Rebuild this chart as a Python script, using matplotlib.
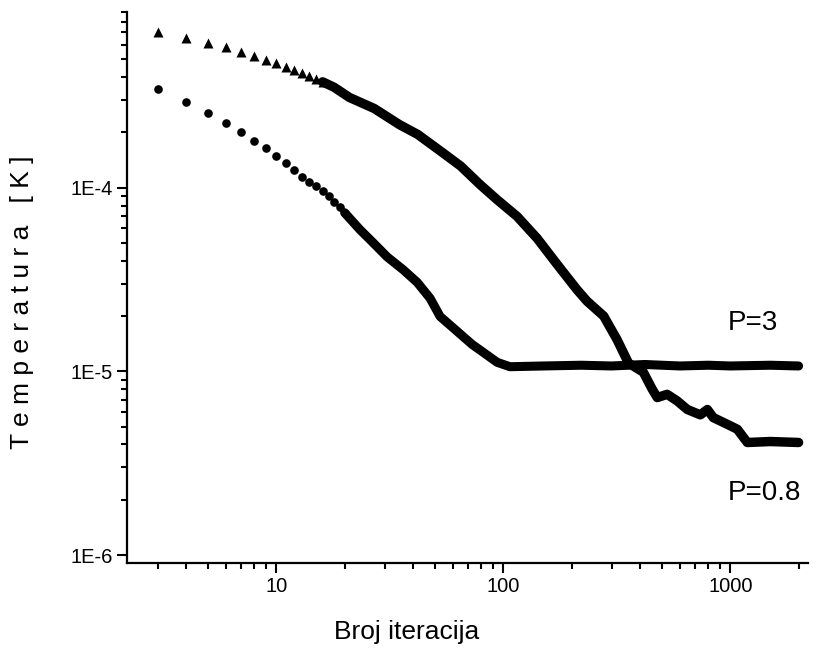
import numpy as np
import matplotlib
matplotlib.use("Agg")
import matplotlib.pyplot as plt
from matplotlib.ticker import LogLocator, FixedFormatter, NullFormatter

plt.rcParams['font.family'] = ['Liberation Sans', 'DejaVu Sans']

# P=3 (circles) - separate points at the start
p3_x = [3, 4, 5, 6, 7, 8, 9, 10, 11, 12, 13, 14, 15, 16, 17, 18, 19, 20]
p3_y = [3.45e-4, 2.93e-4, 2.56e-4, 2.26e-4, 2.02e-4, 1.80e-4, 1.64e-4, 1.49e-4,
        1.36e-4, 1.25e-4, 1.15e-4, 1.08e-4, 1.02e-4, 9.63e-5, 9.05e-5, 8.39e-5,
        7.88e-5, 7.31e-5]
# P=3 dense part (points merge into a thick band)
p3_dense_x = [20, 23.4, 26.7, 30.8, 36.2, 41.8, 47.6, 52.7, 62.7, 73, 81.6, 94,
              107, 150, 220, 300, 420, 600, 800, 1000, 1500, 2000]
p3_dense_y = [7.31e-5, 5.9e-5, 5.02e-5, 4.2e-5, 3.58e-5, 3.05e-5, 2.5e-5, 1.99e-5,
              1.65e-5, 1.40e-5, 1.27e-5, 1.12e-5, 1.06e-5, 1.07e-5, 1.08e-5,
              1.07e-5, 1.09e-5, 1.07e-5, 1.08e-5, 1.07e-5, 1.08e-5, 1.07e-5]

# P=0.8 (triangles)
p08_x = [3, 4, 5, 6, 7, 8, 9, 10, 11, 12, 13, 14, 15, 16]
p08_y = [7.02e-4, 6.51e-4, 6.11e-4, 5.82e-4, 5.50e-4, 5.24e-4, 4.98e-4, 4.78e-4,
         4.55e-4, 4.38e-4, 4.23e-4, 4.08e-4, 3.93e-4, 3.77e-4]
p08_dense_x = [16, 18, 21, 27, 35, 42, 53, 65, 79, 94, 115, 141, 172, 211, 234,
               277, 317, 356, 414, 453, 477, 527, 584, 647, 738, 793, 842, 970,
               1074, 1189, 1500, 2000]
p08_dense_y = [3.77e-4, 3.52e-4, 3.1e-4, 2.7e-4, 2.2e-4, 1.95e-4, 1.58e-4, 1.31e-4,
               1.04e-4, 8.6e-5, 6.98e-5, 5.3e-5, 3.85e-5, 2.79e-5, 2.41e-5, 2.0e-5,
               1.49e-5, 1.11e-5, 9.9e-6, 8.0e-6, 7.2e-6, 7.5e-6, 6.9e-6, 6.2e-6,
               5.8e-6, 6.2e-6, 5.6e-6, 5.15e-6, 4.84e-6, 4.1e-6, 4.15e-6, 4.1e-6]

y_major = [1e-6, 1e-5, 1e-4]
y_labels = ['1E-6', '1E-5', '1E-4']
x_major = [10, 100, 1000]
x_labels = ['10', '100', '1000']

fig = plt.figure(figsize=(8.13, 6.48), dpi=100)
ax = fig.add_axes([127 / 813, 85 / 648, 681 / 813, 551 / 648])

ax.plot(p3_dense_x, p3_dense_y, color='black', lw=6.5, solid_capstyle='round',
        solid_joinstyle='round')
ax.plot(p3_x, p3_y, 'o', color='black', ms=6.2, mec='none')
ax.plot(p08_dense_x, p08_dense_y, color='black', lw=6.8, solid_capstyle='round',
        solid_joinstyle='round')
ax.plot(p08_x, p08_y, '^', color='black', ms=7, mec='none')

ax.set_xscale('log')
ax.set_yscale('log')
ax.set_xlim(2.2, 2200)
ax.set_ylim(9.05e-7, 9.05e-4)

ax.set_xticks(x_major)
ax.xaxis.set_major_formatter(FixedFormatter(x_labels))
ax.xaxis.set_minor_locator(LogLocator(base=10, subs=np.arange(2, 10)))
ax.xaxis.set_minor_formatter(NullFormatter())
ax.set_yticks(y_major)
ax.yaxis.set_major_formatter(FixedFormatter(y_labels))
ax.yaxis.set_minor_locator(LogLocator(base=10, subs=np.arange(2, 10)))
ax.yaxis.set_minor_formatter(NullFormatter())

for s in ['top', 'right']:
    ax.spines[s].set_visible(False)
for s in ['left', 'bottom']:
    ax.spines[s].set_linewidth(1.6)
ax.tick_params(which='major', length=7, width=1.5, labelsize=14.5, pad=3)
ax.tick_params(which='minor', length=4.5, width=1.5)

fig.text(407 / 813, 1 - 632 / 648, 'Broj iteracija', fontsize=19,
         ha='center', va='center')
fig.text(22 / 813, 1 - 302 / 648, 'T e m p e r a t u r a   [ K ]', fontsize=19,
         ha='center', va='center', rotation=90)

ax.text(728 / 813, 1 - 323 / 648, 'P=3', fontsize=20, ha='left', va='center',
        transform=fig.transFigure)
ax.text(728 / 813, 1 - 493 / 648, 'P=0.8', fontsize=20, ha='left', va='center',
        transform=fig.transFigure)

fig.savefig('out.png', dpi=100)
